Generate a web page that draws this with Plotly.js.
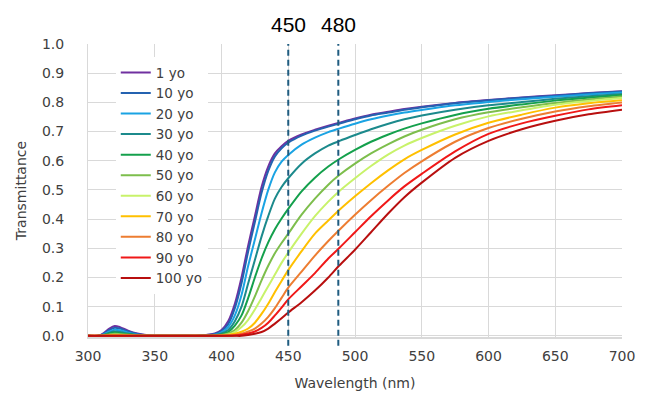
<!DOCTYPE html>
<html>
<head>
<meta charset="utf-8">
<script src="https://cdn.plot.ly/plotly-3.0.1.min.js"></script>
<style>html,body{margin:0;padding:0;background:#fff;}#chart{width:650px;height:411px;}</style>
</head>
<body>
<div id="chart"></div>
<script>
// Wavelength sample points (nm)
const wavelength = [300,308,312,316,320,324,330,337,345,355,370,385,395,400,405,410,415,420,425,430,435,440,445,450,460,470,480,488,500,512,525,537,550,575,600,625,650,675,700];

const ageLabels = ['1 yo','10 yo','20 yo','30 yo','40 yo','50 yo','60 yo','70 yo','80 yo','90 yo','100 yo'];

const t1yo   = [0,0,0.01,0.025,0.034,0.03,0.018,0.008,0.002,0, 0,0.001,0.008,0.02,0.05,0.11,0.2,0.31,0.41,0.51,0.58,0.625,0.65,0.668,0.69,0.706,0.72,0.73,0.745,0.758,0.768,0.777,0.785,0.798,0.808,0.817,0.824,0.832,0.838];
const t10yo  = [0,0,0.008,0.02,0.028,0.025,0.015,0.006,0.001,0, 0,0.001,0.006,0.016,0.04,0.095,0.18,0.29,0.39,0.49,0.565,0.615,0.643,0.662,0.686,0.703,0.717,0.727,0.742,0.755,0.765,0.775,0.783,0.797,0.807,0.816,0.823,0.831,0.837];
const t20yo  = [0,0,0.006,0.015,0.021,0.019,0.011,0.004,0.001,0, 0,0,0.004,0.012,0.03,0.07,0.14,0.24,0.33,0.42,0.5,0.56,0.597,0.62,0.655,0.679,0.698,0.71,0.727,0.742,0.755,0.765,0.774,0.79,0.801,0.811,0.819,0.827,0.834];
const t30yo  = [0,0,0.004,0.011,0.015,0.013,0.008,0.003,0,0, 0,0,0.003,0.008,0.02,0.05,0.1,0.18,0.26,0.34,0.41,0.47,0.51,0.54,0.59,0.625,0.652,0.667,0.688,0.708,0.727,0.742,0.755,0.775,0.79,0.801,0.812,0.821,0.829];
const t40yo  = [0,0,0.003,0.008,0.011,0.009,0.006,0.002,0,0, 0,0,0.002,0.005,0.013,0.035,0.07,0.13,0.2,0.265,0.32,0.365,0.402,0.435,0.495,0.542,0.58,0.605,0.637,0.665,0.69,0.71,0.728,0.757,0.778,0.793,0.806,0.816,0.825];
const t50yo  = [0,0,0.002,0.005,0.007,0.006,0.004,0.001,0,0, 0,0,0.001,0.003,0.008,0.02,0.045,0.085,0.135,0.19,0.24,0.283,0.318,0.35,0.415,0.47,0.518,0.55,0.59,0.625,0.657,0.683,0.706,0.742,0.766,0.783,0.798,0.81,0.82];
const t60yo  = [0,0,0.001,0.003,0.004,0.003,0.002,0,0,0, 0,0,0,0.002,0.005,0.013,0.03,0.055,0.09,0.13,0.17,0.21,0.25,0.285,0.35,0.41,0.46,0.495,0.54,0.582,0.622,0.652,0.678,0.72,0.752,0.773,0.792,0.805,0.815];
const t70yo  = [0,0,0,0.002,0.002,0.002,0.001,0,0,0, 0,0,0,0.001,0.003,0.007,0.014,0.025,0.045,0.075,0.11,0.15,0.188,0.225,0.29,0.35,0.395,0.43,0.478,0.523,0.568,0.605,0.637,0.69,0.73,0.758,0.782,0.797,0.807];
const t80yo  = [0,0,0,0,0,0,0,0,0,0, 0,0,0,0,0.001,0.003,0.007,0.015,0.025,0.042,0.065,0.095,0.13,0.165,0.22,0.275,0.325,0.362,0.415,0.465,0.515,0.558,0.598,0.665,0.712,0.744,0.769,0.787,0.8];
const t90yo  = [0,0,0,0,0,0,0,0,0,0, 0,0,0,0,0,0.001,0.004,0.008,0.015,0.027,0.045,0.07,0.097,0.125,0.17,0.215,0.265,0.3,0.355,0.41,0.465,0.512,0.555,0.632,0.692,0.728,0.754,0.776,0.79];
const t100yo = [0,0,0,0,0,0,0,0,0,0, 0,0,0,0,0,0,0,0.003,0.007,0.013,0.025,0.042,0.06,0.08,0.115,0.155,0.2,0.24,0.295,0.355,0.42,0.475,0.525,0.61,0.668,0.708,0.737,0.759,0.775];

const seriesValues = [t1yo,t10yo,t20yo,t30yo,t40yo,t50yo,t60yo,t70yo,t80yo,t90yo,t100yo];
const seriesColors = ['#7030A0','#2462B0','#1AA3E3','#1C8A8C','#14A04C','#7DBE4C','#C8F26A','#FFC000','#ED7D31','#F01818','#B80F0F'];

// Reference wavelength markers
const markerPositions = [450, 487.5];
const markerLabels = ['450', '480'];

const tickFont = {family: 'DejaVu Sans, Verdana, sans-serif', size: 14, color: '#404040'};
const legendFont = {family: 'DejaVu Sans, Verdana, sans-serif', size: 13.5, color: '#404040'};

const traces = seriesValues.map((vals, i) => ({
  type: 'scatter',
  mode: 'lines',
  name: ageLabels[i],
  x: wavelength,
  y: vals,
  line: {color: seriesColors[i], width: 2, shape: 'spline', smoothing: 0.8}
}));

const shapes = markerPositions.map(p => ({
  type: 'line', xref: 'x', yref: 'paper',
  x0: p, x1: p, y0: -0.03, y1: 1,
  line: {color: '#1F5C80', width: 2, dash: '6px,4px'}
}));

const annotations = markerPositions.map((p, i) => ({
  x: p, xref: 'x', y: 1, yref: 'paper',
  yanchor: 'bottom', yshift: 6,
  text: markerLabels[i], showarrow: false,
  font: {family: 'Liberation Sans, Arial, sans-serif', size: 21, color: '#000000'}
}));

const layout = {
  width: 650, height: 411,
  margin: {l: 88, r: 28, t: 44, b: 74},
  paper_bgcolor: '#ffffff', plot_bgcolor: '#ffffff',
  showlegend: true,
  legend: {
    x: 0.052, y: 0.955, xanchor: 'left', yanchor: 'top',
    bgcolor: '#ffffff', borderwidth: 0,
    font: legendFont, itemwidth: 30, tracegroupgap: 0
  },
  xaxis: {
    range: [300, 700], tick0: 300, dtick: 50,
    showgrid: true, gridcolor: '#D9D9D9', gridwidth: 1,
    showline: true, linecolor: '#D9D9D9', linewidth: 1.5,
    zeroline: false, ticks: '', ticklabelstandoff: 6,
    tickfont: tickFont,
    title: {text: 'Wavelength (nm)', font: tickFont, standoff: 15}
  },
  yaxis: {
    range: [-0.004, 1.0], tick0: 0, dtick: 0.1, tickformat: '.1f',
    showgrid: true, gridcolor: '#D9D9D9', gridwidth: 1,
    showline: true, linecolor: '#D9D9D9', linewidth: 1,
    zeroline: false, ticks: '', ticklabelstandoff: 20,
    tickfont: tickFont,
    title: {text: 'Transmittance', font: tickFont, standoff: 12}
  },
  shapes: shapes,
  annotations: annotations
};

Plotly.newPlot('chart', traces, layout, {staticPlot: true, displayModeBar: false});
</script>
</body>
</html>
